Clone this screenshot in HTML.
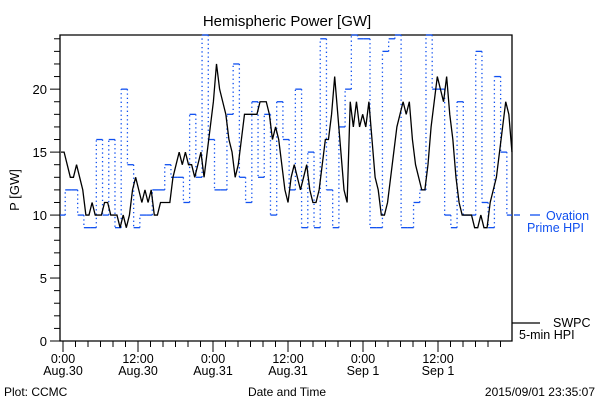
<!DOCTYPE html>
<html><head><meta charset="utf-8"><style>
body{margin:0;background:#fff;}
svg{display:block;font-family:"Liberation Sans",sans-serif;}
</style></head><body>
<svg id="chart" width="600" height="400" viewBox="0 0 600 400">
<text x="287" y="26" font-size="15" text-anchor="middle">Hemispheric Power [GW]</text>
<text transform="translate(19,190) rotate(-90)" font-size="13" text-anchor="middle">P [GW]</text>
<text x="287" y="396" font-size="12" text-anchor="middle">Date and Time</text>
<text x="4" y="396" font-size="12">Plot: CCMC</text>
<text x="595" y="396" font-size="12" text-anchor="end">2015/09/01 23:35:07</text>
<g id="axes"></g>
<g id="blue"></g>
<g id="black"></g>
<g>
<line x1="514" y1="215" x2="520" y2="215" stroke="#1050f0" stroke-width="1.3"/>
<line x1="530" y1="215" x2="540" y2="215" stroke="#1050f0" stroke-width="1.3"/>
<text x="546" y="220" font-size="12.5" fill="#1050f0">Ovation</text>
<text x="527" y="232" font-size="12.5" fill="#1050f0">Prime HPI</text>
<line x1="512" y1="323" x2="540" y2="323" stroke="#000" stroke-width="1.3"/>
<text x="553" y="327" font-size="12.5">SWPC</text>
<text x="519" y="339" font-size="12.5">5-min HPI</text>
</g>
</svg>
<script>
const blueVals=[10,12,12,10,9,9,16,10,16,9,20,14,9,10,10,12,12,14,13,13,11,18,13,25,16,12,12,18,22,13,11,19,13,18,10,19,16,12,20,9,15,9,24,12,9,17,20,25,24,24,9,9,23,24,25,9,9,11,12,25,20,20,10,9,19,10,10,23,11,9,21,15,10];
const blackVals=[15,15,14,13,13,14,13,12,10,10,11,10,10,10,11,11,10,10,10,9,10,9,10,12,13,12,11,12,11,12,10,10,11,11,11,11,13,14,15,14,15,14,14,13,14,15,13,15,17,19,22,20,19,18,16,15,13,14,16,18,18,18,18,18,19,19,19,18,16,17,16,14,12,11,13,14,13,12,13,14,12,11,11,12,14,16,16,18,21,18,15,12,11,19,17,19,17,18,17,19,16,13,12,10,10,11,13,15,17,18,19,18,19,16,14,13,12,12,14,17,19,21,20,19,21,18,16,13,11,10,10,10,10,9,9,10,9,9,11,12,13,15,17,19,18,15];
const yTicks=[0,5,10,15,20];
const xTickLabels=[["0:00","Aug.30"],["12:00","Aug.30"],["0:00","Aug.31"],["12:00","Aug.31"],["0:00","Sep 1"],["12:00","Sep 1"]];
const NS="http://www.w3.org/2000/svg";
const L=60,R=512,T=35,B=341,YMAX=24.3;
function yS(v){return Math.max(T,B-(v/YMAX)*(B-T));}
function xH(h){return 63+h*6.25;}
function mk(t,a,p){const e=document.createElementNS(NS,t);for(const k in a)e.setAttribute(k,a[k]);p.appendChild(e);return e;}
const ax=document.getElementById('axes');
const frame=mk('path',{d:`M${L},${T}L${R},${T}L${R},${B}L${L},${B}Z`,fill:'none',stroke:'#000','stroke-width':1.3},ax);


for(let v=0;v<=24;v++){const y=yS(v);const major=v%5===0;
 const t=mk('line',{x1:L-(major?10:6),y1:y,x2:L,y2:y,stroke:'#000','stroke-width':1},ax);
 
 }
yTicks.forEach(v=>{const t=mk('text',{x:L-13,y:yS(v)+5,'font-size':13,'text-anchor':'end'},ax);t.textContent=v;
 
 });
for(let h=0;h<=72;h+=2){const x=xH(h);if(x>R)break;const major=h%12===0;
 const t=mk('line',{x1:x,y1:B,x2:x,y2:B+(major?11:6),stroke:'#000','stroke-width':1},ax);
 
 }
xTickLabels.forEach((lb,i)=>{const x=xH(i*12);
 const a=mk('text',{x:x,y:B+22,'font-size':12.5,'text-anchor':'middle'},ax);a.textContent=lb[0];
 
 
 const b=mk('text',{x:x,y:B+34,'font-size':12.5,'text-anchor':'middle'},ax);b.textContent=lb[1];
 
 });
const bg=document.getElementById('blue');const bx0=59,bw=6.22;
blueVals.forEach((v,i)=>{const x1=Math.max(L,bx0+i*bw),x2=Math.min(R,bx0+(i+1)*bw),y=yS(v);
 const s=mk('line',{x1:x1,y1:y,x2:x2,y2:y,stroke:'#1050f0','stroke-width':1.3},bg);
 
 
 if(i>0){const yp=yS(blueVals[i-1]);
  const d=mk('line',{x1:x1,y1:yp,x2:x1,y2:y,stroke:'#1050f0','stroke-width':1.3,'stroke-dasharray':'1.3,3'},bg);
  
  }});
const kg=document.getElementById('black');const kx0=61,kw=3.11;
let d='';blackVals.forEach((v,i)=>{const x=kx0+i*kw,y=yS(v);
 d+=(i===0?'M':'L')+x+','+y;});
const p=mk('path',{d:d,fill:'none',stroke:'#000','stroke-width':1.3},kg);


</script>
</body></html>
